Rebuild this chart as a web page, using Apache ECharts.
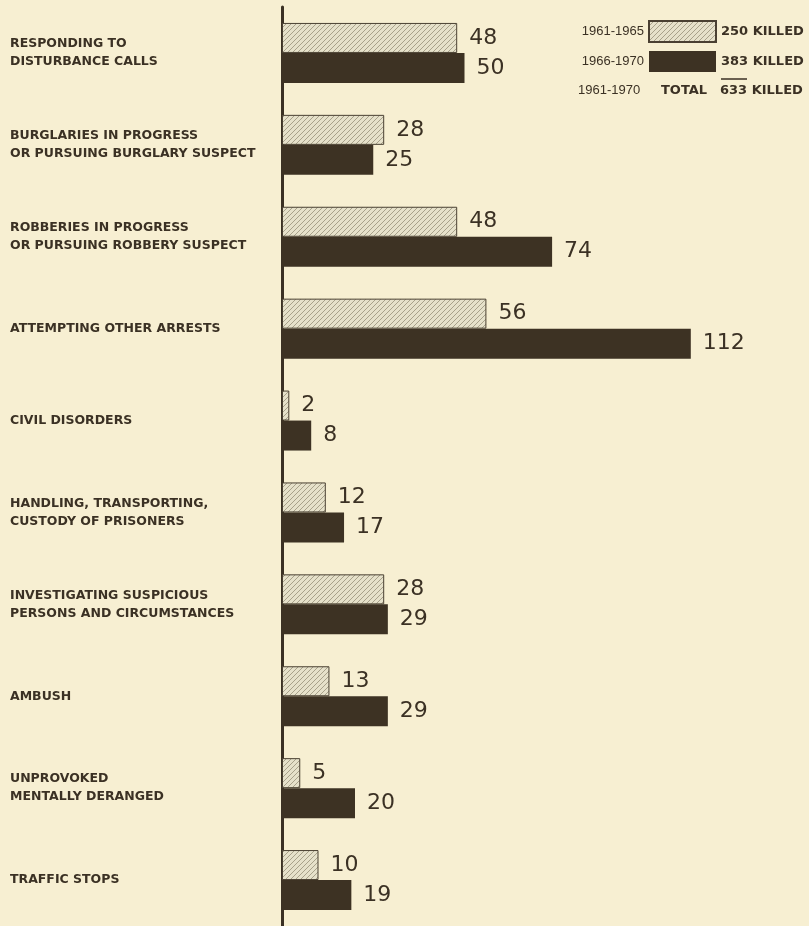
<!DOCTYPE html>
<html>
<head>
<meta charset="utf-8">
<script src="https://cdn.jsdelivr.net/npm/echarts@6/dist/echarts.min.js"></script>
<style>
html,body{margin:0;padding:0;background:#f7efd2;}
#c{width:809px;height:926px;}
</style>
</head>
<body>
<div id="c"></div>
<script>
const categories = [
  "RESPONDING TO\nDISTURBANCE CALLS",
  "BURGLARIES IN PROGRESS\nOR PURSUING BURGLARY SUSPECT",
  "ROBBERIES IN PROGRESS\nOR PURSUING ROBBERY SUSPECT",
  "ATTEMPTING OTHER ARRESTS",
  "CIVIL DISORDERS",
  "HANDLING, TRANSPORTING,\nCUSTODY OF PRISONERS",
  "INVESTIGATING SUSPICIOUS\nPERSONS AND CIRCUMSTANCES",
  "AMBUSH",
  "UNPROVOKED\nMENTALLY DERANGED",
  "TRAFFIC STOPS"
];
const killed1961_1965 = [48, 28, 48, 56, 2, 12, 28, 13, 5, 10];
const killed1966_1970 = [50, 25, 74, 112, 8, 17, 29, 29, 20, 19];
const seriesNames = ["1961-1965", "1966-1970"];
const seriesTotals = ["250 KILLED", "383 KILLED"];
const grandTotal = "633 KILLED";

const ink = '#3b3124';

// hatch pattern
const pc = document.createElement('canvas');
pc.width = 5; pc.height = 5;
const g = pc.getContext('2d');
g.fillStyle = '#e6e1ca';
g.fillRect(0, 0, 5, 5);
g.strokeStyle = '#a8a18a';
g.lineWidth = 1;
g.beginPath();
g.moveTo(-1, 6); g.lineTo(6, -1);
g.moveTo(-1, 1); g.lineTo(1, -1);
g.moveTo(4, 6); g.lineTo(6, 4);
g.stroke();

const chart = echarts.init(document.getElementById('c'), null, {renderer: 'canvas'});
chart.setOption({
  backgroundColor: '#f7efd2',
  animation: false,
  grid: {left: 282, top: 7, width: 511, height: 927, containLabel: false},
  xAxis: {
    type: 'value', min: 0, max: 140, show: false
  },
  yAxis: {
    type: 'category', data: categories, inverse: true,
    axisLine: {show: true, lineStyle: {color: ink, width: 3}},
    axisTick: {show: false},
    splitLine: {show: false},
    axisLabel: {
      align: 'left', margin: 272,
      fontFamily: '"DejaVu Sans", sans-serif', fontWeight: 'bold', fontSize: 12.5,
      color: ink, lineHeight: 18
    }
  },
  legend: {
    orient: 'vertical', left: 648, top: 20, padding: 0,
    itemWidth: 67, itemHeight: 21, itemGap: 8,
    icon: 'rect',
    data: seriesNames,
    formatter: function (name) { return seriesTotals[seriesNames.indexOf(name)]; },
    textStyle: {fontFamily: '"DejaVu Sans", sans-serif', fontWeight: 'bold', fontSize: 13, color: ink},
    selectedMode: false
  },
  graphic: [
    {type: 'text', right: 809 - 644, top: 25, style: {text: '1961-1965', font: '13px "Liberation Sans"', fill: ink}},
    {type: 'text', right: 809 - 644, top: 55, style: {text: '1966-1970', font: '13px "Liberation Sans"', fill: ink}},
    {type: 'text', left: 578, top: 84, style: {text: '1961-1970', font: '13px "Liberation Sans"', fill: ink}},
    {type: 'text', left: 661, top: 84, style: {text: 'TOTAL', font: 'bold 13px "DejaVu Sans"', fill: ink}},
    {type: 'text', left: 720, top: 84, style: {text: grandTotal, font: 'bold 13px "DejaVu Sans"', fill: ink}},
    {type: 'line', shape: {x1: 721, y1: 79, x2: 747, y2: 79}, style: {stroke: ink, lineWidth: 1.5}}
  ],
  series: [
    {
      name: seriesNames[0], type: 'bar', data: killed1961_1965,
      barWidth: 30, barGap: '0%',
      itemStyle: {color: {image: pc, repeat: 'repeat'}, borderColor: '#4a4032', borderWidth: 1},
      label: {show: true, position: 'right', distance: 12, fontFamily: '"DejaVu Sans", sans-serif', fontSize: 22, color: ink}
    },
    {
      name: seriesNames[1], type: 'bar', data: killed1966_1970,
      barWidth: 30,
      itemStyle: {color: '#3d3223'},
      label: {show: true, position: 'right', distance: 12, fontFamily: '"DejaVu Sans", sans-serif', fontSize: 22, color: ink}
    }
  ]
});
</script>
</body>
</html>
